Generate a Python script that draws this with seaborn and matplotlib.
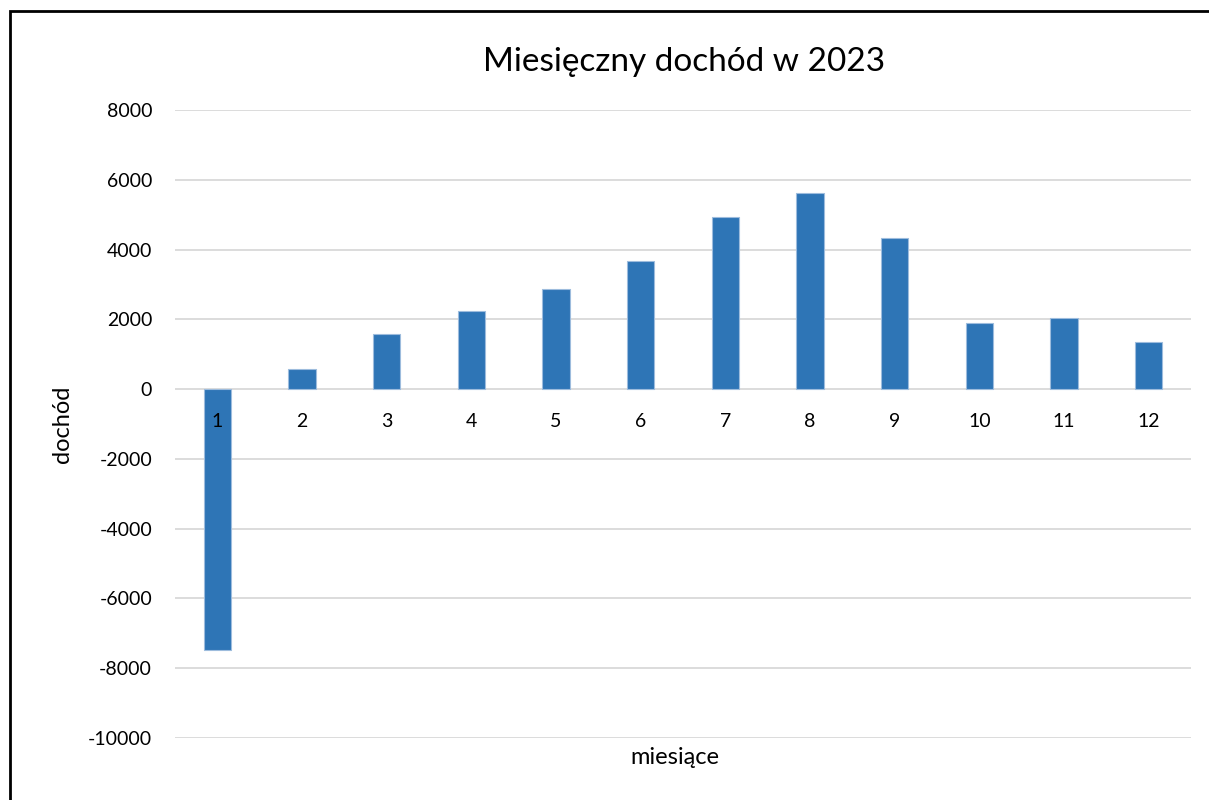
import matplotlib
matplotlib.use("Agg")
import matplotlib.pyplot as plt
import seaborn as sns
import pandas as pd
from matplotlib.patches import Rectangle

# Data
months = ["1", "2", "3", "4", "5", "6", "7", "8", "9", "10", "11", "12"]
income = [-7470, 590, 1590, 2250, 2860, 3670, 4920, 5620, 4330, 1890, 2040, 1345]
y_ticks = [-10000, -8000, -6000, -4000, -2000, 0, 2000, 4000, 6000, 8000]

title = "Miesięczny dochód w 2023"
xlabel = "miesiące"
ylabel = "dochód"

sns.set_theme(style="white")
plt.rcParams['font.family'] = ['Lato', 'DejaVu Sans']

df = pd.DataFrame({"miesiac": months, "dochod": income})

fig = plt.figure(figsize=(12.09, 8.0), dpi=100)
W, H = 1209, 800
ax = fig.add_axes([175 / W, 1 - 738 / H, (1191 - 175) / W, (738 - 110) / H])

# horizontal gridlines drawn beneath the bars
for v in y_ticks:
    ax.axhline(v, color="#D9D9D9", linewidth=1.3, zorder=0)

sns.barplot(data=df, x="miesiac", y="dochod", order=months, color="#2E75B6",
            width=0.32, edgecolor="#9DBCDD", linewidth=0.8, saturation=1,
            errorbar=None, ax=ax, zorder=2)

ax.set_ylim(-10000, 8000)
ax.set_xlim(-0.5, 11.5)
ax.set_yticks(y_ticks)
ax.set_yticklabels([str(v) for v in y_ticks])
ax.grid(False)
for s in ax.spines.values():
    s.set_visible(False)
ax.spines['bottom'].set_position(('data', 0))
ax.xaxis.set_zorder(5)
ax.tick_params(axis="both", length=0, labelsize=14, colors="black")
ax.tick_params(axis="y", pad=16.5)
ax.tick_params(axis="x", pad=17)

ax.set_xlabel(xlabel, fontsize=17, color="black", va="center")
ax.xaxis.set_label_coords(0.492, -(757 - 738) / 628)
ax.set_ylabel(ylabel, fontsize=17, color="black", va="center")
ax.yaxis.set_label_coords(-(175 - 62) / 1016, (738 - 424) / 628)

fig.text(684 / W, 1 - 62 / H, title, ha="center", va="center", fontsize=24, color="black")

# chart frame
fig.patches.append(Rectangle((10 / W, -0.1), 1.2, 1 - 11 / H + 0.1, transform=fig.transFigure,
                             fill=False, edgecolor="black", linewidth=2))

fig.savefig("out.png", dpi=100)
